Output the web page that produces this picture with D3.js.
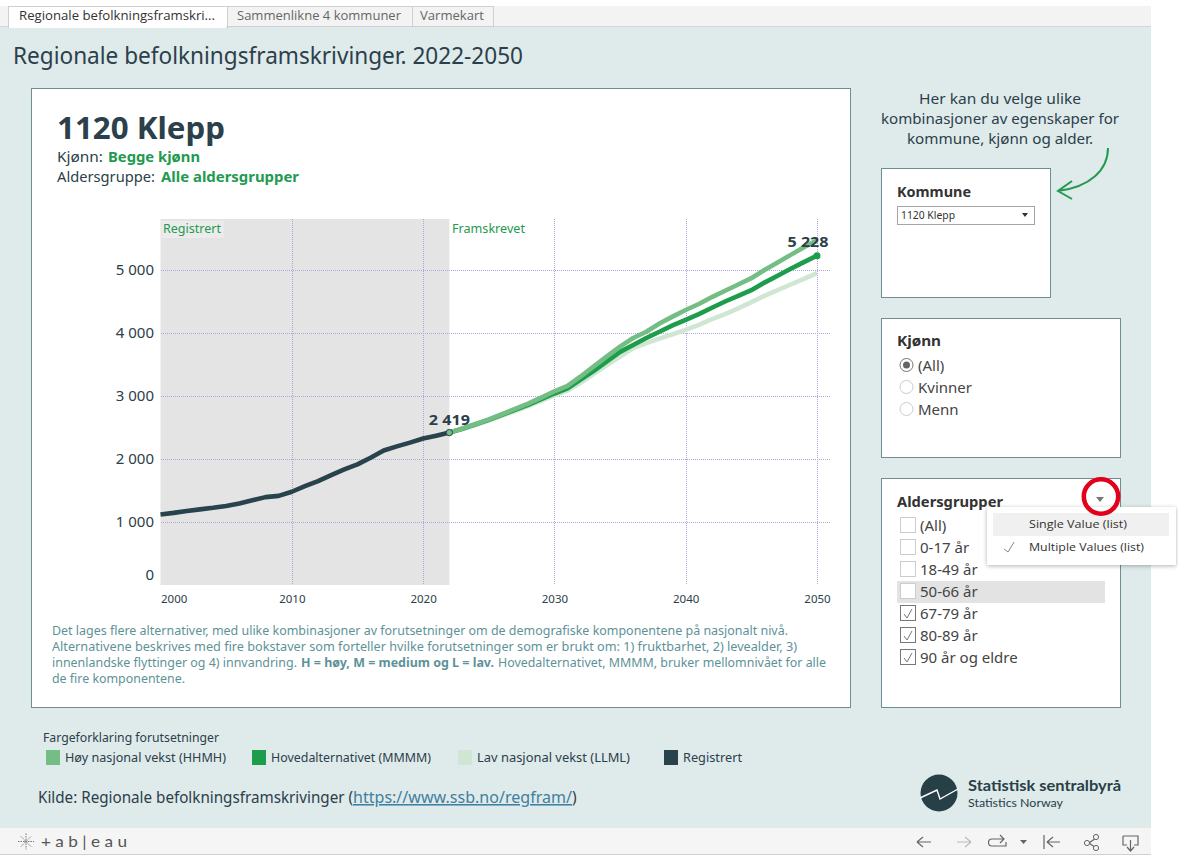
<!DOCTYPE html>
<html>
<head>
<meta charset="utf-8">
<script src="https://cdnjs.cloudflare.com/ajax/libs/d3/7.8.5/d3.min.js"></script>
<style>
	html, body { margin: 0; padding: 0; background: #fff; }
	svg { display: block; }
	text { font-family: "Noto Sans", sans-serif; }
</style>
</head>
<body>
<div id="chart"></div>
<script>
const yearsRegistered = [2000,2001,2002,2003,2004,2005,2006,2007,2008,2009,2010,2011,2012,2013,2014,2015,2016,2017,2018,2019,2020,2021,2022];
const registered = [1120,1145,1175,1200,1225,1255,1295,1345,1395,1415,1480,1570,1650,1745,1835,1915,2020,2135,2200,2260,2325,2370,2419];
const yearsProjected = [2022,2023,2024,2025,2026,2027,2028,2029,2030,2031,2032,2033,2034,2035,2036,2037,2038,2039,2040,2041,2042,2043,2044,2045,2046,2047,2048,2049,2050];
const mainAlt = [2419,2480,2550,2620,2700,2780,2860,2950,3040,3120,3260,3400,3550,3700,3810,3920,4020,4120,4210,4300,4400,4500,4590,4680,4800,4910,5020,5125,5228];
const highAlt = [2419,2485,2555,2630,2710,2795,2880,2975,3075,3160,3310,3470,3630,3783,3920,4020,4150,4260,4365,4460,4570,4670,4770,4870,5000,5120,5240,5360,5470];
const lowAlt = [2419,2475,2540,2610,2685,2760,2840,2925,3010,3085,3210,3350,3490,3624,3762,3840,3910,3980,4050,4130,4220,4300,4390,4490,4590,4680,4770,4860,4950];
const yTicks = [0,1000,2000,3000,4000,5000];
const xTicks = [2000,2010,2020,2030,2040,2050];
const legendNames = ["Høy nasjonal vekst (HHMH)","Hovedalternativet (MMMM)","Lav nasjonal vekst (LLML)","Registrert"];
const legendColors = ["#74bd84","#1d9d4b","#cfe6d3","#28434c"];
const tabNames = ["Regionale befolkningsframskri...","Sammenlikne 4 kommuner","Varmekart"];
const genderOptions = ["(All)","Kvinner","Menn"];
const ageOptions = ["(All)","0-17 år","18-49 år","50-66 år","67-79 år","80-89 år","90 år og eldre"];
const ageChecked = [false,false,false,false,true,true,true];

const dark = "#2b404a", green = "#239a50", panelLine = "#6f8d93", grid = "#aca6d6";

const svg = d3.select("#chart").append("svg")
	.attr("width", 1178)
	.attr("height", 856);

//Plain text helper, w stretches the run to the width it has in the picture
function txt(parent, x, y, str, size, color, o) {
	o = o || {};
	const t = parent.append("text")
		.attr("x", x)
		.attr("y", y)
		.attr("font-size", size)
		.attr("fill", color)
		.attr("font-weight", o.bold ? 700 : 400)
		.attr("text-anchor", o.anchor || "start")
		.text(str);
	if (o.family) t.style("font-family", o.family);
	if (o.w) t.attr("textLength", o.w).attr("lengthAdjust", "spacingAndGlyphs");
	return t;
}
function box(parent, x, y, w, h, fill, stroke) {
	return parent.append("rect")
		.attr("x", x).attr("y", y).attr("width", w).attr("height", h)
		.attr("fill", fill).attr("stroke", stroke || "none");
}

/////////////////////////////////////////////////////////
///////////////// Page, tabs and panels /////////////////
/////////////////////////////////////////////////////////

box(svg, 0, 6, 1151, 21, "#f3f3f3");
box(svg, 0, 27, 1151, 801, "#dfeaea");
box(svg, 0, 828, 1151, 26, "#f5f5f5");
svg.append("line").attr("x1", 0).attr("x2", 1151).attr("y1", 854.5).attr("y2", 854.5).attr("stroke", "#d0d0d0");
svg.append("line").attr("x1", 0).attr("x2", 1151).attr("y1", 26.5).attr("y2", 26.5).attr("stroke", "#cfd8d8");

const tabEdges = [8, 227, 412, 493], tabTextW = [196, 164, 64];
tabNames.forEach((d, i) => {
	box(svg, tabEdges[i] + .5, 6.5, tabEdges[i+1] - tabEdges[i], i == 0 ? 21 : 20, i == 0 ? "#fff" : "#f3f3f3", "#cfcfcf");
	txt(svg, tabEdges[i] + (i == 0 ? 11 : (i == 1 ? 10 : 8)), 20, d, 12.5, i == 0 ? "#333" : "#666", {family: "'Open Sans'", w: tabTextW[i]});
});
box(svg, 9, 25, 217, 3, "#fff");

txt(svg, 13, 64, "Regionale befolkningsframskrivinger. 2022-2050", 23.5, dark, {w: 510});

box(svg, 31.5, 88.5, 819, 619, "#fff", panelLine);
box(svg, 881.5, 168.5, 169, 129, "#fff", panelLine);
box(svg, 881.5, 318.5, 239, 139, "#fff", panelLine);
box(svg, 881.5, 478.5, 239, 229, "#fff", panelLine);

/////////////////////////////////////////////////////////
///////////////////// Chart heading /////////////////////
/////////////////////////////////////////////////////////

txt(svg, 57, 139, "1120 Klepp", 31, dark, {bold: true, w: 168});
txt(svg, 57, 162, "Kjønn:", 15, dark, {w: 46});
txt(svg, 108, 162, "Begge kjønn", 15, green, {bold: true, w: 92});
txt(svg, 57, 182, "Aldersgruppe:", 15, dark, {w: 98});
txt(svg, 161, 182, "Alle aldersgrupper", 15, green, {bold: true, w: 138});

/////////////////////////////////////////////////////////
////////////////////// The chart ////////////////////////
/////////////////////////////////////////////////////////

const xScale = d3.scaleLinear().domain([2000, 2050]).range([160.5, 817]);
const yScale = d3.scaleLinear().domain([0, 5000]).range([585, 270]);
const plotTop = 219, plotBottom = 585, plotRight = 830;

const plot = svg.append("g").attr("class", "plot");

//Grey band behind the registered years
box(plot, xScale(2000), plotTop, xScale(2022) - xScale(2000), plotBottom - plotTop, "#e4e4e4");
box(plot, xScale(2000) + 1, plotTop + 2, 62, 17, "#ececec");

//Grid
plot.selectAll(".gridY")
	.data(yTicks.filter(d => d > 0))
	.enter().append("line")
	.attr("class", "gridY")
	.attr("x1", xScale(2000)).attr("x2", plotRight)
	.attr("y1", d => Math.round(yScale(d)) + .5).attr("y2", d => Math.round(yScale(d)) + .5)
	.attr("stroke", grid).attr("stroke-dasharray", "1 1").attr("shape-rendering", "crispEdges");
plot.selectAll(".gridX")
	.data(xTicks.filter(d => d > 2000))
	.enter().append("line")
	.attr("class", "gridX")
	.attr("x1", d => Math.round(xScale(d)) + .5).attr("x2", d => Math.round(xScale(d)) + .5)
	.attr("y1", plotTop).attr("y2", plotBottom)
	.attr("stroke", grid).attr("stroke-dasharray", "1 1").attr("shape-rendering", "crispEdges");

//Axes
const yAxis = plot.append("g")
	.attr("transform", "translate(154,0)")
	.call(d3.axisLeft(yScale).tickValues(yTicks).tickSize(0).tickPadding(0)
		.tickFormat(d => d == 0 ? "0" : d3.format(",")(d).replace(",", " ")));
yAxis.select(".domain").remove();
yAxis.selectAll("text").attr("font-size", 15).attr("fill", dark).attr("dy", "0.32em");
//Zero label sits above the baseline in the original
yAxis.selectAll("text").filter(d => d == 0).attr("y", -10);

const xAxis = plot.append("g")
	.attr("transform", "translate(0,593)")
	.call(d3.axisBottom(xScale).tickValues(xTicks).tickSize(0).tickPadding(0).tickFormat(d3.format("d")));
xAxis.select(".domain").remove();
xAxis.selectAll("text").attr("font-size", 11.5).attr("fill", dark).attr("dy", "0.9em");
//First label is pushed inside the plot like in the original
xAxis.selectAll("text").filter(d => d == 2000).attr("text-anchor", "start");

//Lines
const lineYears = (years, values) => years.map((y, i) => ({year: y, value: values[i]}));
const line = d3.line().x(d => xScale(d.year)).y(d => yScale(d.value));

[[yearsProjected, lowAlt, legendColors[2]],
 [yearsProjected, mainAlt, legendColors[1]],
 [yearsProjected, highAlt, legendColors[0]],
 [yearsRegistered, registered, legendColors[3]]].forEach(s => {
	plot.append("path")
		.datum(lineYears(s[0], s[1]))
		.attr("d", line)
		.attr("fill", "none")
		.attr("stroke", s[2])
		.attr("stroke-width", 4.6)
		.attr("stroke-linejoin", "round");
});

//End markers and their labels
plot.append("circle")
	.attr("cx", xScale(2022)).attr("cy", yScale(2419)).attr("r", 3.2)
	.attr("fill", legendColors[0]).attr("stroke", dark).attr("stroke-width", 1);
plot.append("circle")
	.attr("cx", xScale(2050)).attr("cy", yScale(5228)).attr("r", 3.5)
	.attr("fill", legendColors[1]);
txt(plot, xScale(2022), yScale(2419) - 8, "2 419", 14.5, dark, {bold: true, anchor: "middle", w: 41});
txt(plot, xScale(2050) - 9, yScale(5228) - 9, "5 228", 14.5, dark, {bold: true, anchor: "middle", w: 41});

txt(plot, 163, 233, "Registrert", 12.5, green, {w: 58});
txt(plot, 452, 233, "Framskrevet", 12.5, green, {w: 73});

/////////////////////////////////////////////////////////
///////////////////// Explanation ///////////////////////
/////////////////////////////////////////////////////////

const noteColor = "#5e9298";
txt(svg, 52, 635, "Det lages flere alternativer, med ulike kombinasjoner av forutsetninger om de demografiske komponentene på nasjonalt nivå.", 12, noteColor, {w: 736});
txt(svg, 52, 651, "Alternativene beskrives med fire bokstaver som forteller hvilke forutsetninger som er brukt om: 1) fruktbarhet, 2) levealder, 3)", 12, noteColor, {w: 745});
txt(svg, 52, 667, "innenlandske flyttinger og 4) innvandring.", 12, noteColor, {w: 245});
txt(svg, 301, 667, "H = høy, M = medium og L = lav.", 12, noteColor, {bold: true, w: 193});
txt(svg, 498, 667, "Hovedalternativet, MMMM, bruker mellomnivået for alle", 12, noteColor, {w: 328});
txt(svg, 52, 683, "de fire komponentene.", 12, noteColor, {w: 133});

//Legend
txt(svg, 43, 742, "Fargeforklaring forutsetninger", 12, dark, {w: 176});
const legendX = [46, 252, 458, 664], legendW = [161, 160, 153, 59];
const legend = svg.selectAll(".legendItem")
	.data(legendNames)
	.enter().append("g")
	.attr("class", "legendItem")
	.attr("transform", (d, i) => "translate(" + legendX[i] + ",750)");
legend.append("rect")
	.attr("width", 14).attr("height", 15)
	.attr("fill", (d, i) => legendColors[i]);
legend.append("text")
	.attr("x", 19).attr("y", 12)
	.attr("font-size", 12).attr("fill", dark)
	.attr("textLength", (d, i) => legendW[i]).attr("lengthAdjust", "spacingAndGlyphs")
	.text(d => d);

//Source
txt(svg, 38, 803, "Kilde: Regionale befolkningsframskrivinger (", 15.5, dark, {w: 315});
txt(svg, 353, 803, "https://www.ssb.no/regfram/", 15.5, "#3f7f9f", {w: 219}).attr("text-decoration", "underline");
txt(svg, 572, 803, ")", 15.5, dark);

/////////////////////////////////////////////////////////
////////////////////// Logo SSB /////////////////////////
/////////////////////////////////////////////////////////

svg.append("circle").attr("cx", 939).attr("cy", 793).attr("r", 18.5).attr("fill", "#274048");
svg.append("path")
	.attr("d", "M920,798 L937,790 L940,799 L958,789")
	.attr("fill", "none").attr("stroke", "#fff").attr("stroke-width", 1.4);
txt(svg, 968, 791, "Statistisk sentralbyrå", 15.5, "#274048", {bold: true, w: 153, family: "Lato"});
txt(svg, 968, 807, "Statistics Norway", 11.5, "#274048", {w: 95, family: "Lato"});

/////////////////////////////////////////////////////////
//////////////////////// Filters ////////////////////////
/////////////////////////////////////////////////////////

txt(svg, 1000, 104, "Her kan du velge ulike", 15, dark, {anchor: "middle", w: 162});
txt(svg, 1000, 124, "kombinasjoner av egenskaper for", 15, dark, {anchor: "middle", w: 238});
txt(svg, 1000, 144, "kommune, kjønn og alder.", 15, dark, {anchor: "middle", w: 186});

//Arrow
svg.append("path")
	.attr("d", "M1108,148 C1108,170 1090,187 1058,191 M1072,181 L1058,191 L1072,199")
	.attr("fill", "none").attr("stroke", green).attr("stroke-width", 2);

//Kommune
txt(svg, 897, 197, "Kommune", 15, "#333", {bold: true, w: 74});
box(svg, 897.5, 206.5, 137, 18, "#fff", "#a5a5a5");
txt(svg, 901, 219, "1120 Klepp", 10.5, "#333", {w: 54});
svg.append("path").attr("d", "M1022,213 h6 l-3,4 z").attr("fill", "#333");

//Kjønn
txt(svg, 897, 346, "Kjønn", 15, "#333", {bold: true, w: 44});
genderOptions.forEach((d, i) => {
	const cy = 365 + i * 22;
	svg.append("circle").attr("cx", 906.5).attr("cy", cy).attr("r", 6.5).attr("fill", "#fff").attr("stroke", i == 0 ? "#777" : "#ccc");
	if (i == 0) svg.append("circle").attr("cx", 906.5).attr("cy", cy).attr("r", 3.5).attr("fill", "#666");
	txt(svg, 918, cy + 6, d, 15, "#444");
});

//Aldersgrupper
txt(svg, 897, 507, "Aldersgrupper", 15, "#333", {bold: true, w: 106});
box(svg, 897, 581, 208, 22, "#e3e3e3");
ageOptions.forEach((d, i) => {
	const cy = 525 + i * 22;
	box(svg, 900.5, cy - 7.5, 15, 15, "#fff", ageChecked[i] ? "#777" : "#ccc");
	if (ageChecked[i]) {
		svg.append("path")
			.attr("d", "M904," + (cy + 1) + " l3,4 l5,-9")
			.attr("fill", "none").attr("stroke", "#777").attr("stroke-width", 1);
	}
	txt(svg, 920, cy + 6, d, 15, "#444");
});

//Menu that is open
const menuShadow = svg.append("defs").append("filter")
	.attr("id", "menuShadow").attr("x", "-10%").attr("y", "-20%").attr("width", "120%").attr("height", "150%");
menuShadow.append("feDropShadow")
	.attr("dx", 0).attr("dy", 1).attr("stdDeviation", 2).attr("flood-color", "#000").attr("flood-opacity", .3);
box(svg, 987, 507, 189, 58, "#fff").attr("filter", "url(#menuShadow)");
box(svg, 993, 513, 176, 23, "#f0f0f0");
txt(svg, 1029, 528, "Single Value (list)", 11.5, "#333", {family: "'Open Sans'", w: 98});
txt(svg, 1029, 551, "Multiple Values (list)", 11.5, "#333", {family: "'Open Sans'", w: 115});
svg.append("path").attr("d", "M1004,549 l4,3 l6,-10").attr("fill", "none").attr("stroke", "#888").attr("stroke-width", 1);

//Red ring round the drop down
svg.append("path").attr("d", "M1096,497 h8 l-4,5 z").attr("fill", "#777");
svg.append("circle")
	.attr("cx", 1101).attr("cy", 496.5).attr("r", 17.2)
	.attr("fill", "none").attr("stroke", "#e2001a").attr("stroke-width", 4.5);

/////////////////////////////////////////////////////////
///////////////////// Bottom toolbar ////////////////////
/////////////////////////////////////////////////////////

const icon = "#666";
const logoMark = svg.append("g").attr("transform", "translate(26,841.5)").attr("stroke", "#777").attr("stroke-width", 1).attr("stroke-dasharray", "1.5 1");
logoMark.append("path").attr("d", "M-8,0 H8 M0,-8 V8 M-5,-5 L5,5 M-5,5 L5,-5");
txt(svg, 41, 847, "+ a b | e a u", 15, "#555", {w: 86, family: "Lato"});

const toolbar = [
	["M917,842 H931 M917,842 l6,-5 M917,842 l6,5", icon],
	["M957,842 H971 M971,842 l-6,-5 M971,842 l-6,5", "#bbb"],
	["M992,839 H1004 M1000,835 l4,4 l-4,4 M992,839 a3,3 0 0 0 0,7 H1006 V842", icon],
	["M1044,835 V849 M1047,842 H1060 M1047,842 l6,-5 M1047,842 l6,5", icon],
	["M1089,843 L1096,838 M1089,843 L1096,848", icon],
	["M1123,836 H1138 V845 H1134 M1123,836 V845 H1127 M1130.5,840 V851 M1127,847 l3.5,4 l3.5,-4", icon]
];
toolbar.forEach(d => {
	svg.append("path").attr("d", d[0]).attr("fill", "none").attr("stroke", d[1]).attr("stroke-width", 1.2);
});
svg.append("path").attr("d", "M1020,840 h7 l-3.5,4 z").attr("fill", icon);
[[1087,843],[1096,837],[1096,848]].forEach(c => {
	svg.append("circle").attr("cx", c[0]).attr("cy", c[1]).attr("r", 2.6).attr("fill", "#f5f5f5").attr("stroke", icon);
});
</script>
</body>
</html>
